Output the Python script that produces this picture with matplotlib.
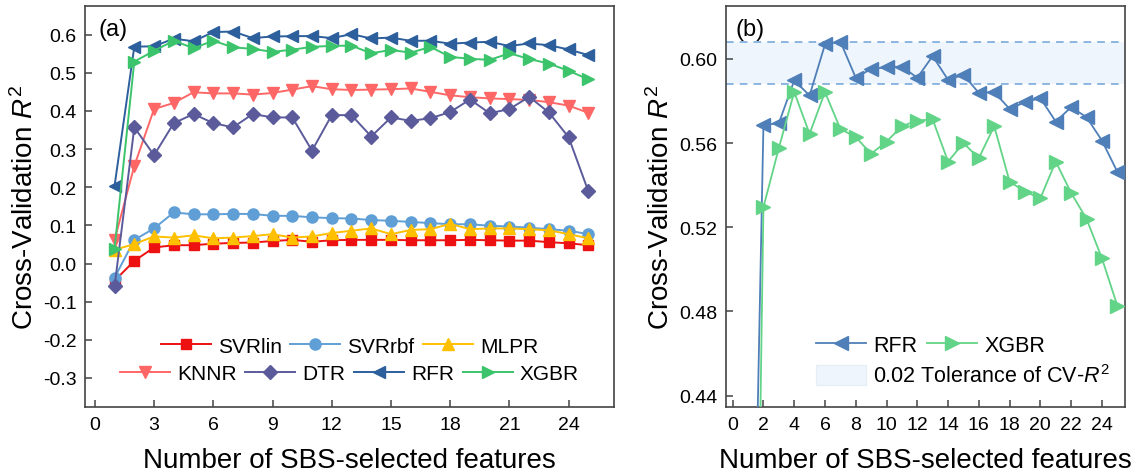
import matplotlib
matplotlib.use("Agg")
import matplotlib.pyplot as plt
from matplotlib.patches import Patch

plt.rcParams['font.family'] = ['Liberation Sans', 'DejaVu Sans']
plt.rcParams['mathtext.fontset'] = 'custom'
plt.rcParams['mathtext.rm'] = 'Liberation Sans'
plt.rcParams['mathtext.it'] = 'Liberation Sans:italic'

# ---------------- data ----------------
n_features = list(range(1, 26))
svrlin = [-0.045, 0.007, 0.042, 0.048, 0.048, 0.052, 0.054, 0.055, 0.059, 0.062, 0.057, 0.061, 0.062,
          0.062, 0.062, 0.061, 0.061, 0.061, 0.062, 0.061, 0.060, 0.060, 0.056, 0.053, 0.048]
svrrbf = [-0.037, 0.062, 0.092, 0.134, 0.129, 0.129, 0.130, 0.130, 0.125, 0.125, 0.121, 0.119, 0.118,
          0.114, 0.112, 0.109, 0.106, 0.103, 0.103, 0.099, 0.097, 0.094, 0.090, 0.086, 0.077]
mlpr = [0.036, 0.051, 0.071, 0.068, 0.074, 0.066, 0.068, 0.072, 0.077, 0.068, 0.071, 0.080, 0.086,
        0.092, 0.077, 0.088, 0.090, 0.104, 0.090, 0.092, 0.092, 0.090, 0.087, 0.077, 0.066]
knnr = [0.062, 0.256, 0.405, 0.421, 0.449, 0.446, 0.446, 0.443, 0.447, 0.456, 0.465, 0.457, 0.455,
        0.456, 0.457, 0.459, 0.450, 0.441, 0.436, 0.433, 0.431, 0.429, 0.423, 0.414, 0.395]
dtr = [-0.060, 0.357, 0.284, 0.368, 0.392, 0.368, 0.357, 0.392, 0.383, 0.383, 0.296, 0.389, 0.389,
       0.333, 0.383, 0.374, 0.381, 0.397, 0.430, 0.394, 0.405, 0.437, 0.396, 0.331, 0.189]
rfr = [0.204, 0.5686, 0.5694, 0.5897, 0.5826, 0.6068, 0.6082, 0.591, 0.5952, 0.596, 0.5963, 0.591, 0.6013,
       0.590, 0.5924, 0.5838, 0.5842, 0.5762, 0.5794, 0.5813, 0.5702, 0.577, 0.5723, 0.5612, 0.5464]
xgbr = [0.039, 0.5295, 0.5576, 0.5842, 0.5644, 0.5842, 0.5667, 0.5628, 0.5549, 0.5607, 0.568, 0.5707, 0.5712,
        0.5512, 0.560, 0.5528, 0.568, 0.5417, 0.5369, 0.5338, 0.5512, 0.5363, 0.524, 0.5053, 0.4828]
tolerance = 0.02

series_names = ["SVRlin", "SVRrbf", "MLPR", "KNNR", "DTR", "RFR", "XGBR"]
xticks_a = [0, 3, 6, 9, 12, 15, 18, 21, 24]
yticks_a = [-0.3, -0.2, -0.1, 0.0, 0.1, 0.2, 0.3, 0.4, 0.5, 0.6]
xticks_b = list(range(0, 25, 2))
yticks_b = [0.44, 0.48, 0.52, 0.56, 0.60]

# ---------------- styles ----------------
styles = {
    "SVRlin": dict(color="#ee1111", marker="s", ms=7),
    "SVRrbf": dict(color="#5f9fd6", marker="o", ms=8),
    "MLPR": dict(color="#ffc000", marker="^", ms=8.5),
    "KNNR": dict(color="#ff6767", marker="v", ms=8.5),
    "DTR": dict(color="#5b5b9c", marker="D", ms=7),
    "RFR": dict(color="#2c5f9c", marker="<", ms=8.5),
    "XGBR": dict(color="#3cc46c", marker=">", ms=8.5),
}
data = {"SVRlin": svrlin, "SVRrbf": svrrbf, "MLPR": mlpr, "KNNR": knnr,
        "DTR": dtr, "RFR": rfr, "XGBR": xgbr}

fig = plt.figure(figsize=(11.42, 4.77), dpi=100)
ax1 = fig.add_axes([0.0744, 0.144, 0.4633, 0.842])
ax2 = fig.add_axes([0.6355, 0.144, 0.3496, 0.841])

spine_c = "#444444"
tick_fs = 14
label_fs = 20

def style_axes(ax):
    for s in ax.spines.values():
        s.set_color(spine_c)
        s.set_linewidth(1.2)
    ax.tick_params(direction="in", length=5, width=1.1, color=spine_c,
                   labelsize=tick_fs, pad=6)

# ---------------- panel (a) ----------------
handles = {}
for name in series_names:
    st = styles[name]
    h, = ax1.plot(n_features, data[name], color=st["color"], marker=st["marker"],
                  markersize=st["ms"], markeredgecolor=st["color"], lw=1.4)
    handles[name] = h

ax1.set_xlim(-0.5, 26.3)
ax1.set_ylim(-0.377, 0.676)
ax1.set_xticks(xticks_a)
ax1.set_yticks(yticks_a)
ax1.set_yticklabels([f"{v:.1f}" for v in yticks_a])
style_axes(ax1)
ax1.set_xlabel("Number of SBS-selected features", fontsize=label_fs, labelpad=10)
ax1.set_ylabel("Cross-Validation $R^2$", fontsize=label_fs, labelpad=3)
ax1.text(0.025, 0.97, "(a)", transform=ax1.transAxes, fontsize=17, va="top", ha="left")

leg_kw = dict(frameon=False, fontsize=15, handlelength=2.4, handletextpad=0.35,
              columnspacing=0.4, borderpad=0.0, borderaxespad=0.0)
row1 = ["SVRlin", "SVRrbf", "MLPR"]
row2 = ["KNNR", "DTR", "RFR", "XGBR"]
l1 = ax1.legend([handles[n] for n in row1], row1, ncol=3, loc="center",
                bbox_to_anchor=(0.5, 0.152), **leg_kw)
ax1.add_artist(l1)
ax1.legend([handles[n] for n in row2], row2, ncol=4, loc="center",
           bbox_to_anchor=(0.5, 0.083), **leg_kw)

# ---------------- panel (b) ----------------
band_top = max(rfr)
band_bot = band_top - tolerance
ax2.axhspan(band_bot, band_top, color="#eef5fc", lw=0, zorder=0)
for yv in (band_bot, band_top):
    ax2.axhline(yv, color="#6fa3d8", lw=1.1, ls=(0, (5, 4)), zorder=1)

rfr_b, = ax2.plot(n_features, rfr, color="#4f7fb8", marker="<", markersize=9.5,
                  markeredgecolor="#4f7fb8", lw=1.3, zorder=3)
xgb_b, = ax2.plot(n_features, xgbr, color="#62d487", marker=">", markersize=9.5,
                  markeredgecolor="#62d487", lw=1.3, zorder=3)

ax2.set_xlim(-0.45, 25.5)
ax2.set_ylim(0.4345, 0.625)
ax2.set_xticks(xticks_b)
ax2.set_yticks(yticks_b)
ax2.set_yticklabels([f"{v:.2f}" for v in yticks_b])
style_axes(ax2)
ax2.set_xlabel("Number of SBS-selected features", fontsize=label_fs, labelpad=10)
ax2.set_ylabel("Cross-Validation $R^2$", fontsize=label_fs, labelpad=3)
ax2.text(0.025, 0.97, "(b)", transform=ax2.transAxes, fontsize=17, va="top", ha="left")

legb_kw = dict(frameon=False, fontsize=15.5, handlelength=2.3, handletextpad=0.35,
               columnspacing=0.45, borderpad=0.0, borderaxespad=0.0)
lb1 = ax2.legend([rfr_b, xgb_b], ["RFR", "XGBR"], ncol=2, loc="center left",
                 bbox_to_anchor=(0.227, 0.155), **legb_kw)
ax2.add_artist(lb1)
patch = Patch(facecolor="#eef5fc", edgecolor="#e6eef6")
ax2.legend([patch], ["0.02 Tolerance of CV-$R^2$"], loc="center left",
           bbox_to_anchor=(0.227, 0.078), handleheight=1.0, **legb_kw)

fig.savefig("out.png", dpi=100)
